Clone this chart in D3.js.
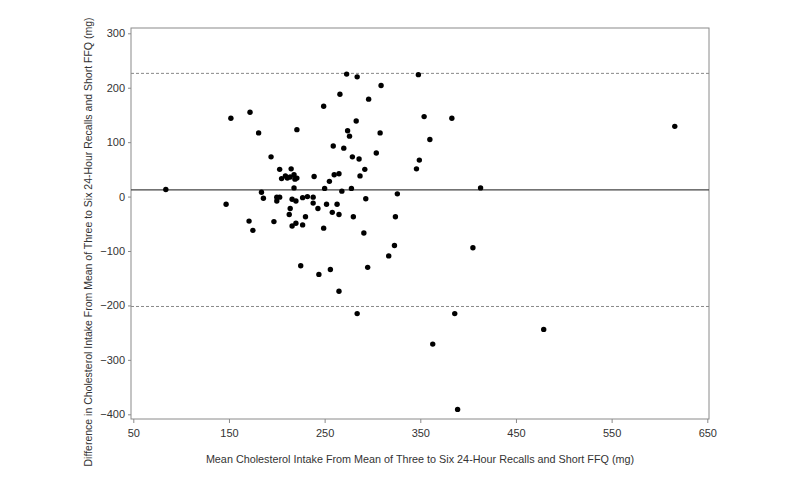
<!DOCTYPE html>
<html lang="en">
<head>
    <meta charset="UTF-8">
    <title>Bland-Altman cholesterol</title>
    <script src="https://d3js.org/d3.v7.min.js"></script>
    <style>
        body { margin: 0; background: #fff; }
        text { font-family: "Liberation Sans", Arial, sans-serif; }
    </style>
</head>
<body>
<div id="chart"></div>
<script>
    // mean of the two methods (mg)
    var meanIntake = [
        84, 147, 152, 172, 181, 194, 171, 175, 184, 186, 197, 200, 203, 200, 203, 215,
        205, 209, 211, 214, 218, 219, 221, 218, 221, 216, 220, 214, 213, 216, 220, 227,
        227, 232, 238, 238, 230, 239, 225, 243, 244, 249, 249, 250, 252, 255, 256, 258,
        259, 260, 263, 265, 265, 265, 266, 268, 270, 273, 274, 276, 278, 279, 280, 283,
        284, 284, 286, 287, 291, 292, 293, 295, 296, 304, 308, 309, 317, 323, 324, 326,
        346, 349, 348, 354, 360, 363, 383, 386, 389, 405, 413, 479, 616
    ];
    // difference (mg)
    var diffIntake = [
        13, -14, 144, 155, 117, 73, -45, -62, 8, -3, -46, -1, -1, -8, 50, 51,
        33, 38, 34, 36, 40, 32, 34, 16, 123, -5, -8, -22, -33, -54, -49, -52,
        -2, 0, -1, -12, -37, 37, -127, -22, -143, -58, 166, 15, -14, 28, -134, -29,
        93, 40, -14, -33, 42, -174, 188, 10, 89, 225, 121, 111, 15, 73, -37, 139,
        220, -215, 69, 38, -67, 50, -4, -130, 179, 80, 117, 204, -109, -90, -37, 5,
        51, 67, 224, 147, 105, -271, 144, -215, -391, -94, 16, -244, 129
    ];
    var meanDiff = 12.3;
    var limits = [226.4, -201.9];

    var xTicks = [50, 150, 250, 350, 450, 550, 650];
    var yTicks = [-400, -300, -200, -100, 0, 100, 200, 300];

    const width = 800, height = 493;
    const plot = { left: 131, right: 709, top: 28, bottom: 419 };

    var svg = d3.select("#chart").append("svg")
        .attr("width", width)
        .attr("height", height);

    var x = d3.scaleLinear().domain([50, 650]).range([133.3, 707.3]);
    var y = d3.scaleLinear().domain([-400, 300]).range([414.3, 33.3]);

    // axes
    var yAxis = svg.append("g")
        .attr("transform", `translate(${plot.left},0)`)
        .call(d3.axisLeft(y).tickValues(yTicks).tickSize(3).tickPadding(3));
    var xAxis = svg.append("g")
        .attr("transform", `translate(0,${plot.bottom})`)
        .call(d3.axisBottom(x).tickValues(xTicks).tickSize(4).tickPadding(6));

    [xAxis, yAxis].forEach(function (g) {
        g.select(".domain").remove();
        g.selectAll(".tick line").attr("stroke", "#8a8a8a");
        g.selectAll(".tick text")
            .attr("fill", "#333")
            .style("font-size", "11px")
            .style("font-family", "'Liberation Sans', Arial, sans-serif");
    });

    // frame
    svg.append("rect")
        .attr("x", plot.left).attr("y", plot.top)
        .attr("width", plot.right - plot.left).attr("height", plot.bottom - plot.top)
        .attr("fill", "none")
        .attr("stroke", "#8a8a8a")
        .attr("stroke-width", 1);

    // limits of agreement
    svg.selectAll(".limit")
        .data(limits)
        .join("line")
        .attr("class", "limit")
        .attr("x1", plot.left).attr("x2", plot.right)
        .attr("y1", d => y(d)).attr("y2", d => y(d))
        .attr("stroke", "#888")
        .attr("stroke-width", 1)
        .attr("stroke-dasharray", "3,2");

    // mean difference
    svg.append("line")
        .attr("x1", plot.left).attr("x2", plot.right)
        .attr("y1", y(meanDiff)).attr("y2", y(meanDiff))
        .attr("stroke", "#444")
        .attr("stroke-width", 1.4);

    // points
    svg.append("g")
        .selectAll("circle")
        .data(meanIntake)
        .join("circle")
        .attr("cx", d => x(d))
        .attr("cy", (d, i) => y(diffIntake[i]))
        .attr("r", 2.7)
        .attr("fill", "#000");

    // axis titles
    svg.append("text")
        .attr("x", 420)
        .attr("y", 463)
        .attr("text-anchor", "middle")
        .attr("fill", "#333")
        .style("font-size", "10.8px")
        .text("Mean Cholesterol Intake From Mean of Three to Six 24-Hour Recalls and Short FFQ (mg)");

    svg.append("text")
        .attr("transform", "translate(92,242) rotate(-90)")
        .attr("text-anchor", "middle")
        .attr("fill", "#333")
        .style("font-size", "10.5px")
        .text("Difference in Cholesterol Intake From Mean of Three to Six 24-Hour Recalls and Short FFQ (mg)");
</script>
</body>
</html>
